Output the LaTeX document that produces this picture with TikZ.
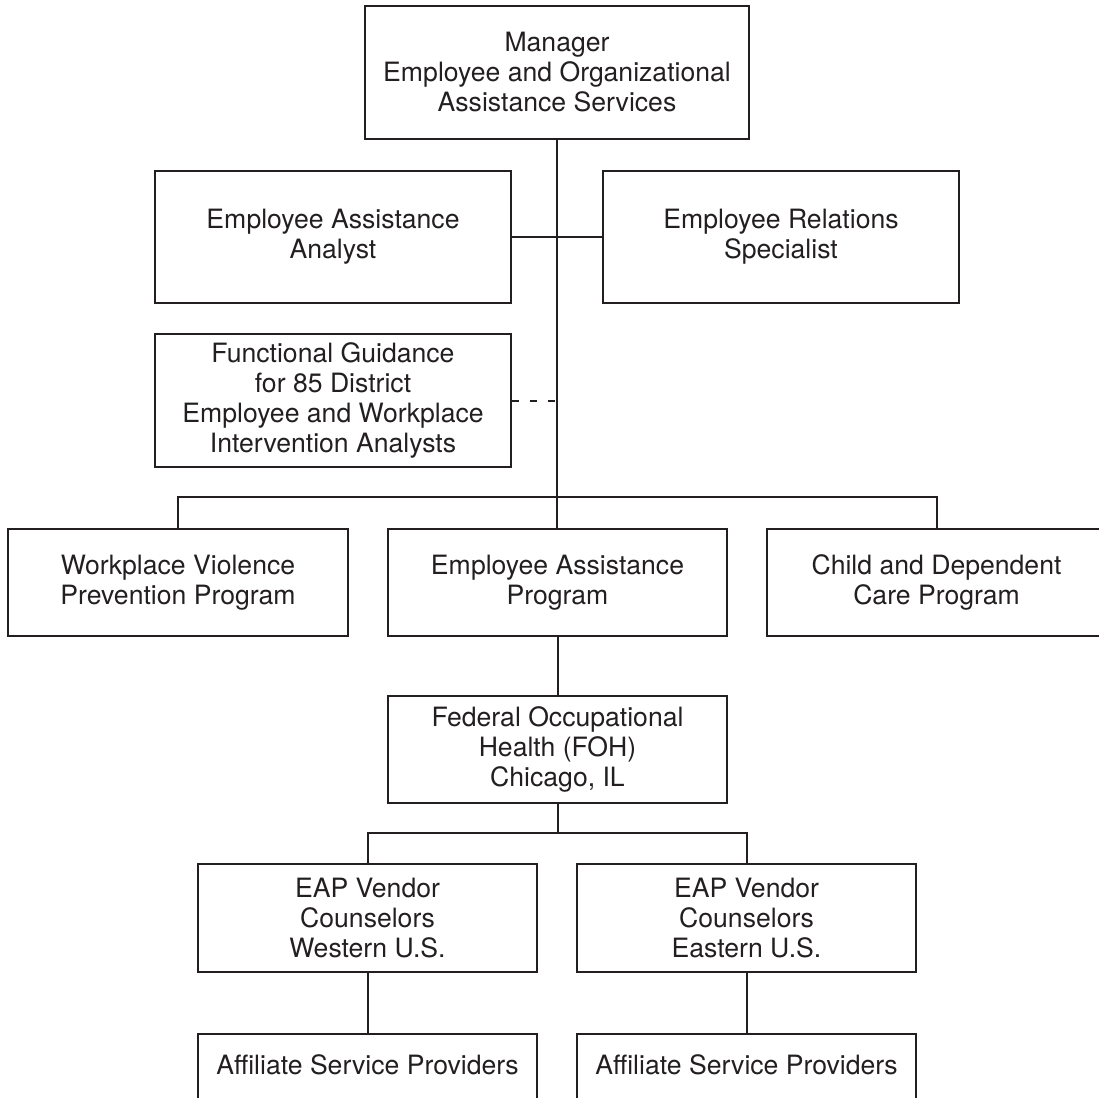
\documentclass[tikz,border=0pt]{standalone}
\usepackage{fontspec}
\setmainfont{TeX Gyre Heros}
\definecolor{ink}{HTML}{231F20}
\begin{document}
\begin{tikzpicture}[x=1pt,y=-1pt,
  line width=2pt, draw=ink,
  every node/.style={text=ink},
  orgbox/.style={draw=ink, line width=2.2pt, inner sep=0pt, align=center,
    font=\fontsize{26.6}{30}\selectfont},
  link/.style={draw=ink, line width=2pt},
  dotted link/.style={draw=ink, line width=2pt, dash pattern=on 7pt off 11pt}]
\useasboundingbox (0,0) rectangle (1099,1097);
\clip (0,0) rectangle (1099,1097);

% top of the organisation
\node[orgbox, minimum width=384pt, minimum height=133pt] (mgr) at (557,72.5)
  {Manager\\Employee and Organizational\\Assistance Services};
\node[orgbox, minimum width=356pt, minimum height=132pt] (eaa) at (333,237)
  {Employee Assistance\\Analyst};
\node[orgbox, minimum width=356pt, minimum height=132pt] (ers) at (781,237)
  {Employee Relations\\Specialist};
\node[orgbox, minimum width=356pt, minimum height=133pt] (fg) at (333,400.5)
  {Functional Guidance\\for 85 District\\Employee and Workplace\\Intervention Analysts};

% programs
\node[orgbox, minimum width=340pt, minimum height=107pt] (wvpp) at (178,582.5)
  {Workplace Violence\\Prevention Program};
\node[orgbox, minimum width=339pt, minimum height=107pt] (eap) at (557.5,582.5)
  {Employee Assistance\\Program};
\node[orgbox, minimum width=339pt, minimum height=107pt] (cdc) at (936.5,582.5)
  {Child and Dependent\\Care Program};

% provider chain
\node[orgbox, minimum width=339pt, minimum height=107pt] (foh) at (557.5,749.5)
  {Federal Occupational\\Health (FOH)\\Chicago, IL};
\node[orgbox, minimum width=339pt, minimum height=108pt] (west) at (367.5,918)
  {EAP Vendor\\Counselors\\Western U.S.};
\node[orgbox, minimum width=339pt, minimum height=108pt] (east) at (746.5,918)
  {EAP Vendor\\Counselors\\Eastern U.S.};
\node[orgbox, anchor=north, minimum width=339pt, text height=40pt, text depth=68pt,
  inner ysep=0pt] (aspw) at (367.5,1033) {Affiliate Service Providers};
\node[orgbox, anchor=north, minimum width=339pt, text height=40pt, text depth=68pt,
  inner ysep=0pt] (aspe) at (746.5,1033) {Affiliate Service Providers};

% bus lines
\coordinate (bus) at (557,497);
\coordinate (bustwo) at (557.5,833);

% connectors
\draw[link] (mgr.south) -- (mgr.south |- eap.north);
\draw[link] (eaa.east) -- (ers.west);
\draw[dotted link] (fg.east) -- (fg.east -| mgr.south);
\draw[link] (wvpp.north) -- (wvpp.north |- bus) -- (cdc.north |- bus) -- (cdc.north);
\draw[link] (eap.south) -- (foh.north);
\draw[link] (foh.south) -- (foh.south |- bustwo);
\draw[link] (west.north) -- (west.north |- bustwo) -- (east.north |- bustwo) -- (east.north);
\draw[link] (west.south) -- (aspw.north);
\draw[link] (east.south) -- (aspe.north);
\end{tikzpicture}
\end{document}
